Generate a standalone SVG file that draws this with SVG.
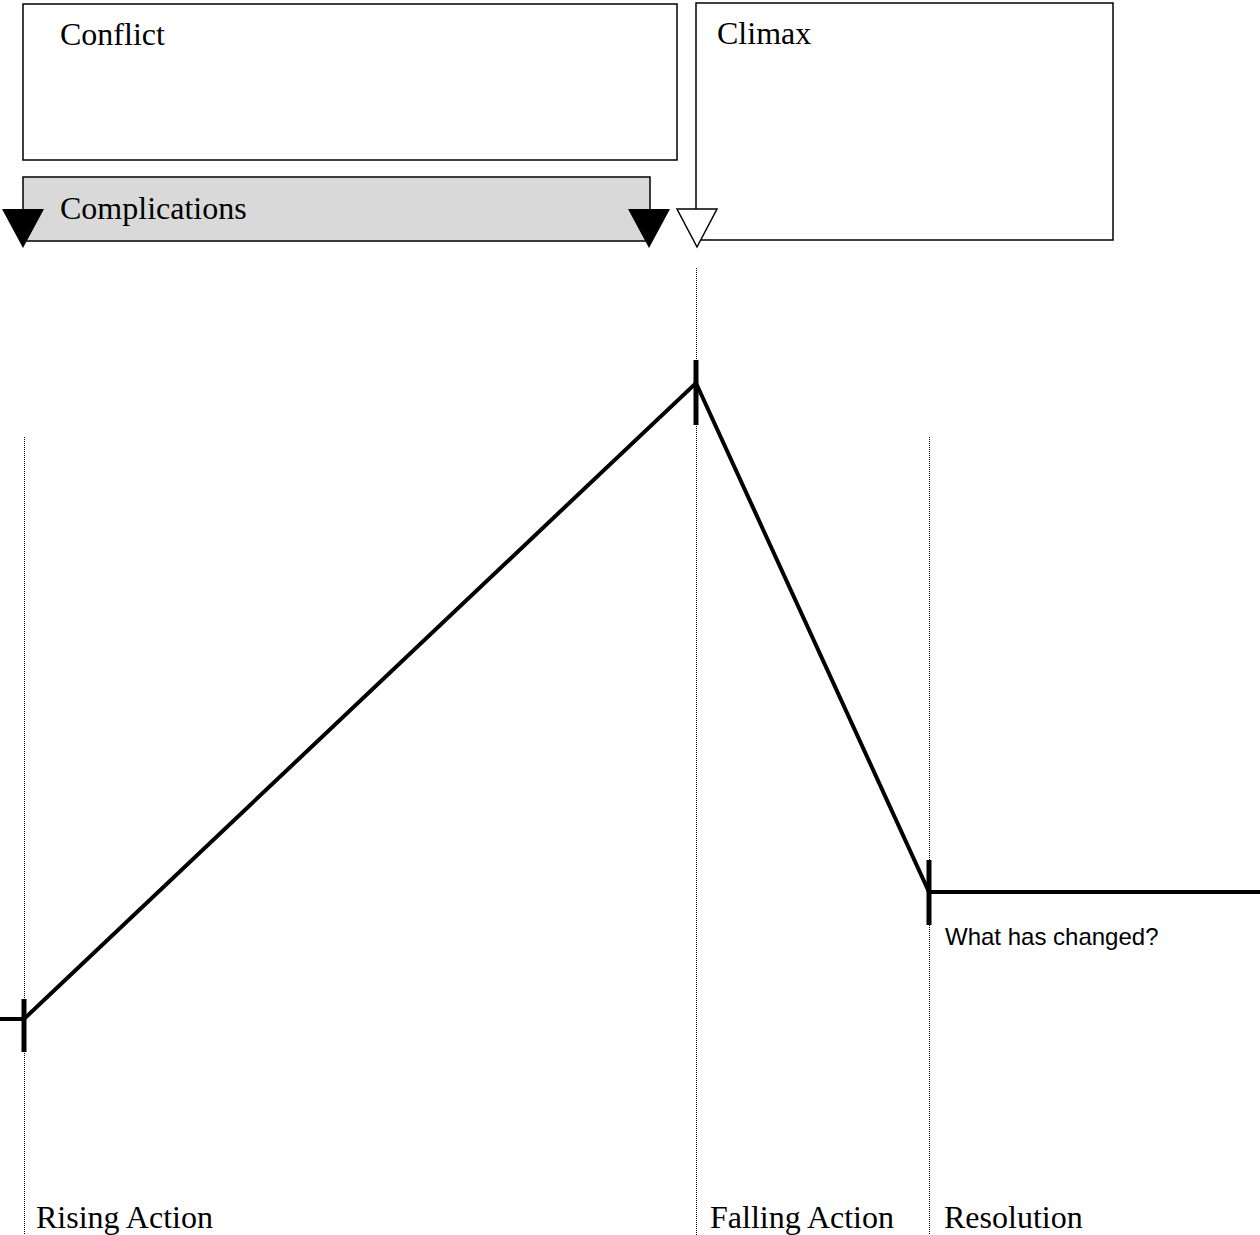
<svg xmlns="http://www.w3.org/2000/svg" width="1260" height="1235" viewBox="0 0 1260 1235">
<style>
.box{fill:#fff;stroke:#000;stroke-width:1.5}
.ser{font-family:"Liberation Serif",serif;font-size:32px;fill:#000}
.guide{stroke:#000;stroke-width:1;stroke-dasharray:1 1;fill:none}
.plot{stroke:#000;stroke-width:4;fill:none;stroke-linejoin:miter}
.tick{stroke:#000;stroke-width:5}
</style>
<rect width="1260" height="1235" fill="#fff"/>
<g id="conflict">
<rect class="box" x="23" y="4" width="654" height="156"/>
<text class="ser" x="60" y="45">Conflict</text>
</g>
<g id="climax">
<rect class="box" x="696" y="3" width="417" height="237"/>
<text class="ser" x="717" y="44">Climax</text>
</g>
<g id="complications">
<rect x="23" y="177" width="627" height="64" fill="#d9d9d9" stroke="#000" stroke-width="1.5"/>
<text class="ser" x="60" y="219">Complications</text>
<polygon points="2,209 44,209 23,248" fill="#000"/>
<polygon points="628,209 670,209 649,248" fill="#000"/>
<polygon points="677,209 717,209 697,247" fill="#fff" stroke="#000" stroke-width="1.5"/>
</g>
<g id="connectors">
<line class="guide" x1="24.5" y1="437" x2="24.5" y2="1235"/>
<line class="guide" x1="696.5" y1="268" x2="696.5" y2="1235"/>
<line class="guide" x1="929.5" y1="437" x2="929.5" y2="1235"/>
<polyline class="plot" points="0,1019 24,1019 696,383 929,892 1260,892"/>
<line class="tick" x1="24" y1="999" x2="24" y2="1052"/>
<line class="tick" x1="696" y1="360" x2="696" y2="425"/>
<line class="tick" x1="929" y1="860" x2="929" y2="925"/>
</g>
<g id="labels">
<text x="945" y="945" font-family="Liberation Sans,Arial,sans-serif" font-size="24">What has changed?</text>
<text class="ser" x="36" y="1228">Rising Action</text>
<text class="ser" x="710" y="1228">Falling Action</text>
<text class="ser" x="944" y="1228">Resolution</text>
</g>
</svg>
